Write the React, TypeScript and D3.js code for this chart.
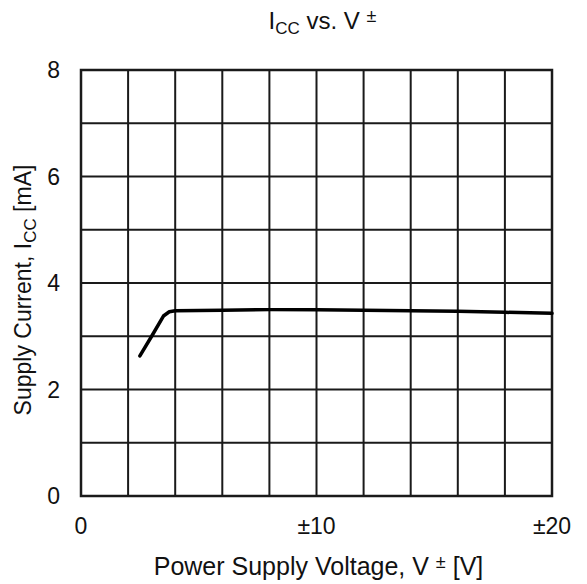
import React, { useEffect, useRef } from "react";
import * as d3 from "d3";

// supply voltage (±V) and supply current (mA)
const voltage = [2.5, 3.0, 3.5, 3.75, 4.0, 6, 8, 10, 12, 14, 16, 18, 20];
const current = [2.63, 3.0, 3.38, 3.46, 3.48, 3.49, 3.5, 3.5, 3.49, 3.48, 3.47, 3.45, 3.43];

const xGrid = d3.range(0, 21, 2);
const yGrid = d3.range(0, 9, 1);
const xTickLabels = [0, 10, 20];
const yTickLabels = [0, 2, 4, 6, 8];

const W = 587;
const H = 584;
const FONT = "'Liberation Sans', Arial, sans-serif";

export default function App() {
  const ref = useRef<SVGSVGElement | null>(null);

  useEffect(() => {
    const margin = { top: 70, right: 35, bottom: 88, left: 81 };
    const w = W - margin.left - margin.right;
    const h = H - margin.top - margin.bottom;

    const svg = d3.select(ref.current);
    svg.selectAll("*").remove();
    svg.attr("viewBox", `0 0 ${W} ${H}`);

    svg.append("rect").attr("width", W).attr("height", H).attr("fill", "#fff");

    const g = svg.append("g").attr("transform", `translate(${margin.left},${margin.top})`);

    const x = d3.scaleLinear().domain([0, 20]).range([0, w]);
    const y = d3.scaleLinear().domain([0, 8]).range([h, 0]);

    // grid
    g.selectAll(".vg")
      .data(xGrid)
      .enter()
      .append("line")
      .attr("x1", d => x(d))
      .attr("x2", d => x(d))
      .attr("y1", 0)
      .attr("y2", h)
      .attr("stroke", "#1a1a1a")
      .attr("stroke-width", 2);

    g.selectAll(".hg")
      .data(yGrid)
      .enter()
      .append("line")
      .attr("x1", 0)
      .attr("x2", w)
      .attr("y1", d => y(d))
      .attr("y2", d => y(d))
      .attr("stroke", "#1a1a1a")
      .attr("stroke-width", 2);

    g.append("rect")
      .attr("width", w)
      .attr("height", h)
      .attr("fill", "none")
      .attr("stroke", "#1a1a1a")
      .attr("stroke-width", 2.5);

    // data line
    const pts = voltage.map((v, i) => [v, current[i]] as [number, number]);
    const line = d3.line<[number, number]>().x(d => x(d[0])).y(d => y(d[1]));
    g.append("path")
      .datum(pts)
      .attr("d", line)
      .attr("fill", "none")
      .attr("stroke", "#000")
      .attr("stroke-width", 3.5)
      .attr("stroke-linejoin", "round")
      .attr("stroke-linecap", "round");

    // tick labels
    g.selectAll(".xl")
      .data(xTickLabels)
      .enter()
      .append("text")
      .attr("x", d => x(d))
      .attr("y", h + 38)
      .attr("text-anchor", "middle")
      .attr("font-family", FONT)
      .attr("font-size", 23)
      .attr("fill", "#111")
      .text(d => (d === 0 ? "0" : `±${d}`));

    g.selectAll(".yl")
      .data(yTickLabels)
      .enter()
      .append("text")
      .attr("x", -21)
      .attr("y", d => y(d))
      .attr("dy", "0.35em")
      .attr("text-anchor", "end")
      .attr("font-family", FONT)
      .attr("font-size", 23)
      .attr("fill", "#111")
      .text(d => d);

    // title
    const title = svg.append("text")
      .attr("x", margin.left + w / 2 + 6)
      .attr("y", 29)
      .attr("text-anchor", "middle")
      .attr("font-family", FONT)
      .attr("font-size", 24)
      .attr("fill", "#111");
    title.append("tspan").text("I");
    title.append("tspan").attr("font-size", 17).attr("dy", 5).text("CC");
    title.append("tspan").attr("dy", -5).text(" vs. V ");
    title.append("tspan").attr("font-size", 18).attr("dy", -7).text("±");

    // x axis title
    const xt = svg.append("text")
      .attr("x", margin.left + w / 2 + 2)
      .attr("y", 575)
      .attr("text-anchor", "middle")
      .attr("font-family", FONT)
      .attr("font-size", 25)
      .attr("fill", "#111");
    xt.append("tspan").text("Power Supply Voltage, V ");
    xt.append("tspan").attr("font-size", 18).attr("dy", -7).text("±");
    xt.append("tspan").attr("dy", 7).text(" [V]");

    // y axis title
    const yt = svg.append("text")
      .attr("transform", `translate(31,${margin.top + h / 2 + 7}) rotate(-90)`)
      .attr("text-anchor", "middle")
      .attr("font-family", FONT)
      .attr("font-size", 23)
      .attr("fill", "#111");
    yt.append("tspan").text("Supply Current, I");
    yt.append("tspan").attr("font-size", 17).attr("dy", 5).text("CC");
    yt.append("tspan").attr("dy", -5).text(" [mA]");
  }, []);

  return (
    <svg
      ref={ref}
      width={W}
      height={H}
      style={{ position: "absolute", left: 0, top: 0, display: "block" }}
    />
  );
}
